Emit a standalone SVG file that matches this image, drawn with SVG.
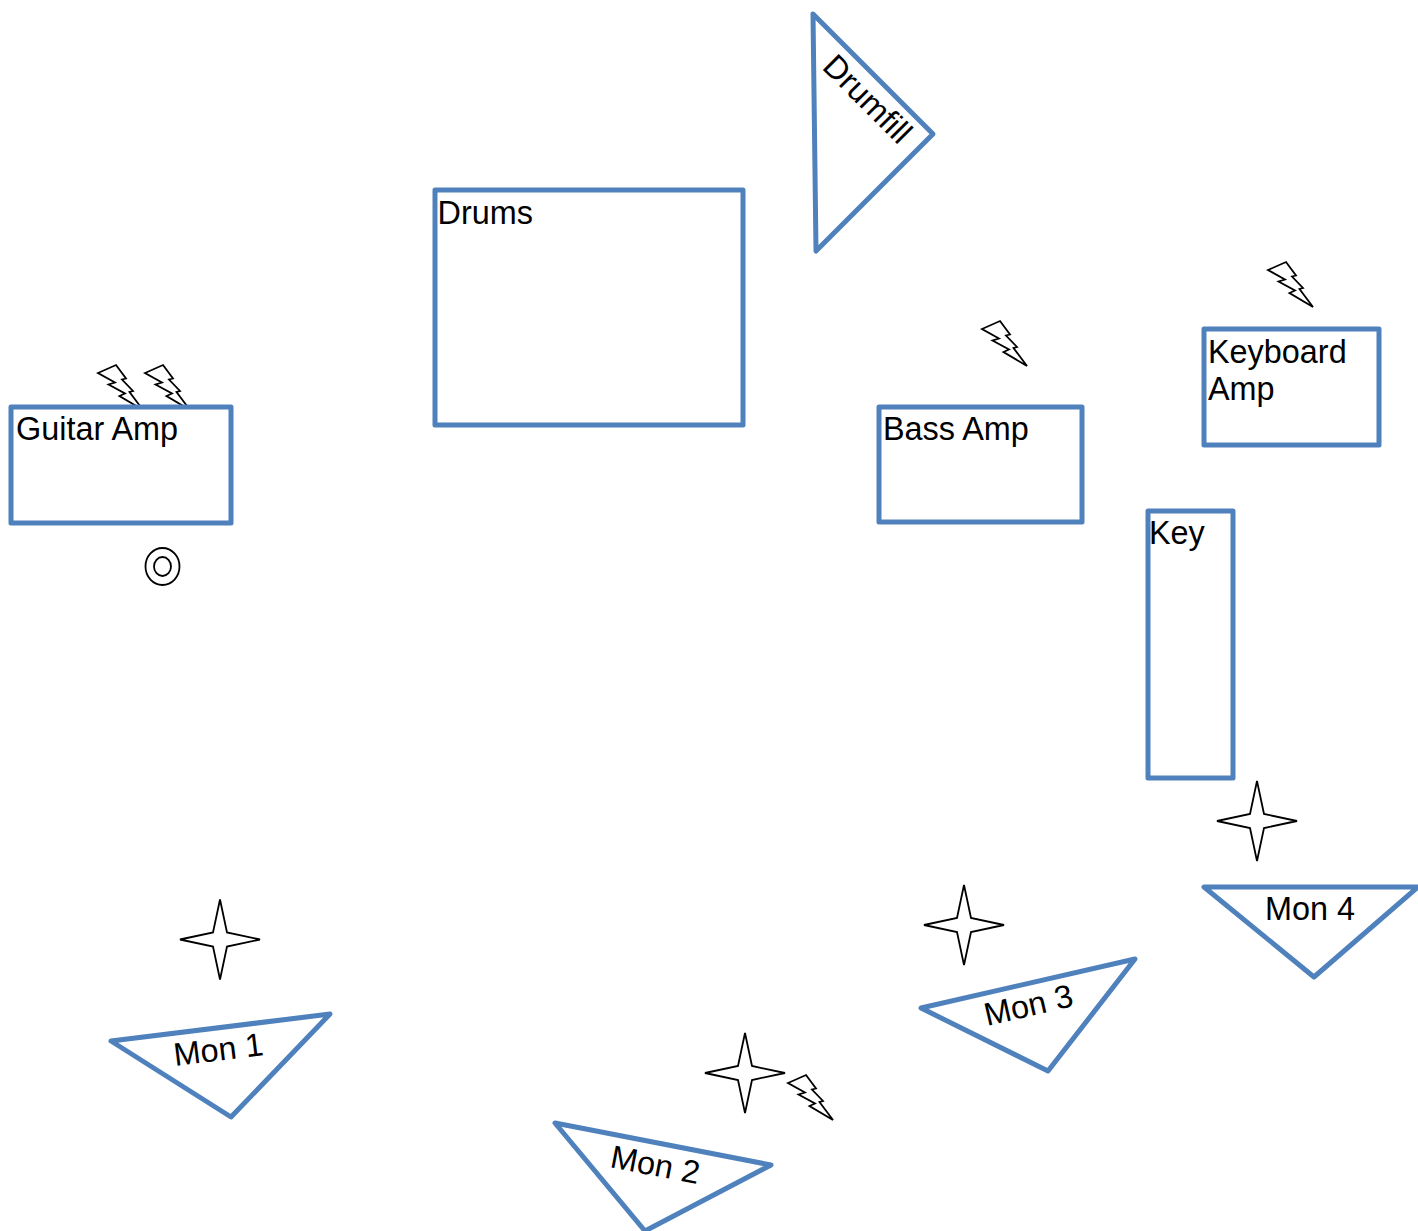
<svg xmlns="http://www.w3.org/2000/svg" width="1418" height="1231" viewBox="0 0 1418 1231">
<style>
.s{fill:#fff;stroke:#4f81bd;stroke-width:5;stroke-linejoin:round}
.g{fill:#fff;stroke:#000;stroke-width:1.800;stroke-linejoin:miter}
text{font-family:"Liberation Sans",Arial,sans-serif;font-size:32.400px;fill:#000}
</style>
<defs>
<path id="bolt" d="M18 0L28 13.500L24 14.500L35 26L31.500 27L45 45L21.500 31L27 28.500L10.500 19.500L17 17.500L0 8Z"/>
<path id="star" d="M40 0L47 33L80 40L47 47L40 80L33 47L0 40L33 33Z"/>
</defs>
<rect width="1418" height="1231" fill="#fff"/>
<g id="connectors"></g>
<g id="bolt-guitar-1"><use href="#bolt" class="g" x="98" y="365"/></g>
<g id="bolt-guitar-2"><use href="#bolt" class="g" x="145" y="365"/></g>
<g id="guitar-amp"><rect class="s" x="11" y="407" width="220" height="116"/><text x="16" y="440">Guitar Amp</text></g>
<g id="drums"><rect class="s" x="435" y="190" width="308" height="235"/><text x="437.500" y="224">Drums</text></g>
<g id="drumfill"><polygon class="s" points="813,14 933,134 816,251"/><text transform="translate(821 68) rotate(45)">Drumfill</text></g>
<g id="bolt-bass"><use href="#bolt" class="g" x="982" y="321"/></g>
<g id="bolt-keyboard"><use href="#bolt" class="g" x="1268" y="262"/></g>
<g id="keyboard-amp"><rect class="s" x="1204" y="329" width="175" height="116"/><text x="1208" y="363">Keyboard</text><text x="1208" y="400">Amp</text></g>
<g id="bass-amp"><rect class="s" x="879" y="407" width="203" height="115"/><text x="883" y="440">Bass Amp</text></g>
<g id="key"><rect class="s" x="1148" y="511" width="85" height="267"/><text x="1149" y="544">Key</text></g>
<g id="mic"><ellipse cx="162.500" cy="566.500" rx="17" ry="18.500" fill="#fff" stroke="#000" stroke-width="1.800"/><ellipse cx="162.500" cy="566.500" rx="8.500" ry="9.500" fill="#fff" stroke="#000" stroke-width="1.800"/></g>
<g id="star-1"><use href="#star" class="g" x="180" y="899.500"/></g>
<g id="star-2"><use href="#star" class="g" x="705" y="1033"/></g>
<g id="star-3"><use href="#star" class="g" x="924" y="885"/></g>
<g id="star-4"><use href="#star" class="g" x="1217" y="781"/></g>
<g id="bolt-mon2"><use href="#bolt" class="g" x="788" y="1075"/></g>
<g id="mon-1"><polygon class="s" points="111,1041 330,1014 231,1117"/><text transform="translate(175 1066) rotate(-7)">Mon 1</text></g>
<g id="mon-2"><polygon class="s" points="555,1123 771,1165 645,1231"/><text transform="translate(609 1167) rotate(11)">Mon 2</text></g>
<g id="mon-3"><polygon class="s" points="921,1008 1135,959 1048,1071"/><text transform="translate(987 1026) rotate(-13)">Mon 3</text></g>
<g id="mon-4"><polygon class="s" points="1204,887 1418,887 1314,977"/><text x="1265" y="920">Mon 4</text></g>
</svg>
